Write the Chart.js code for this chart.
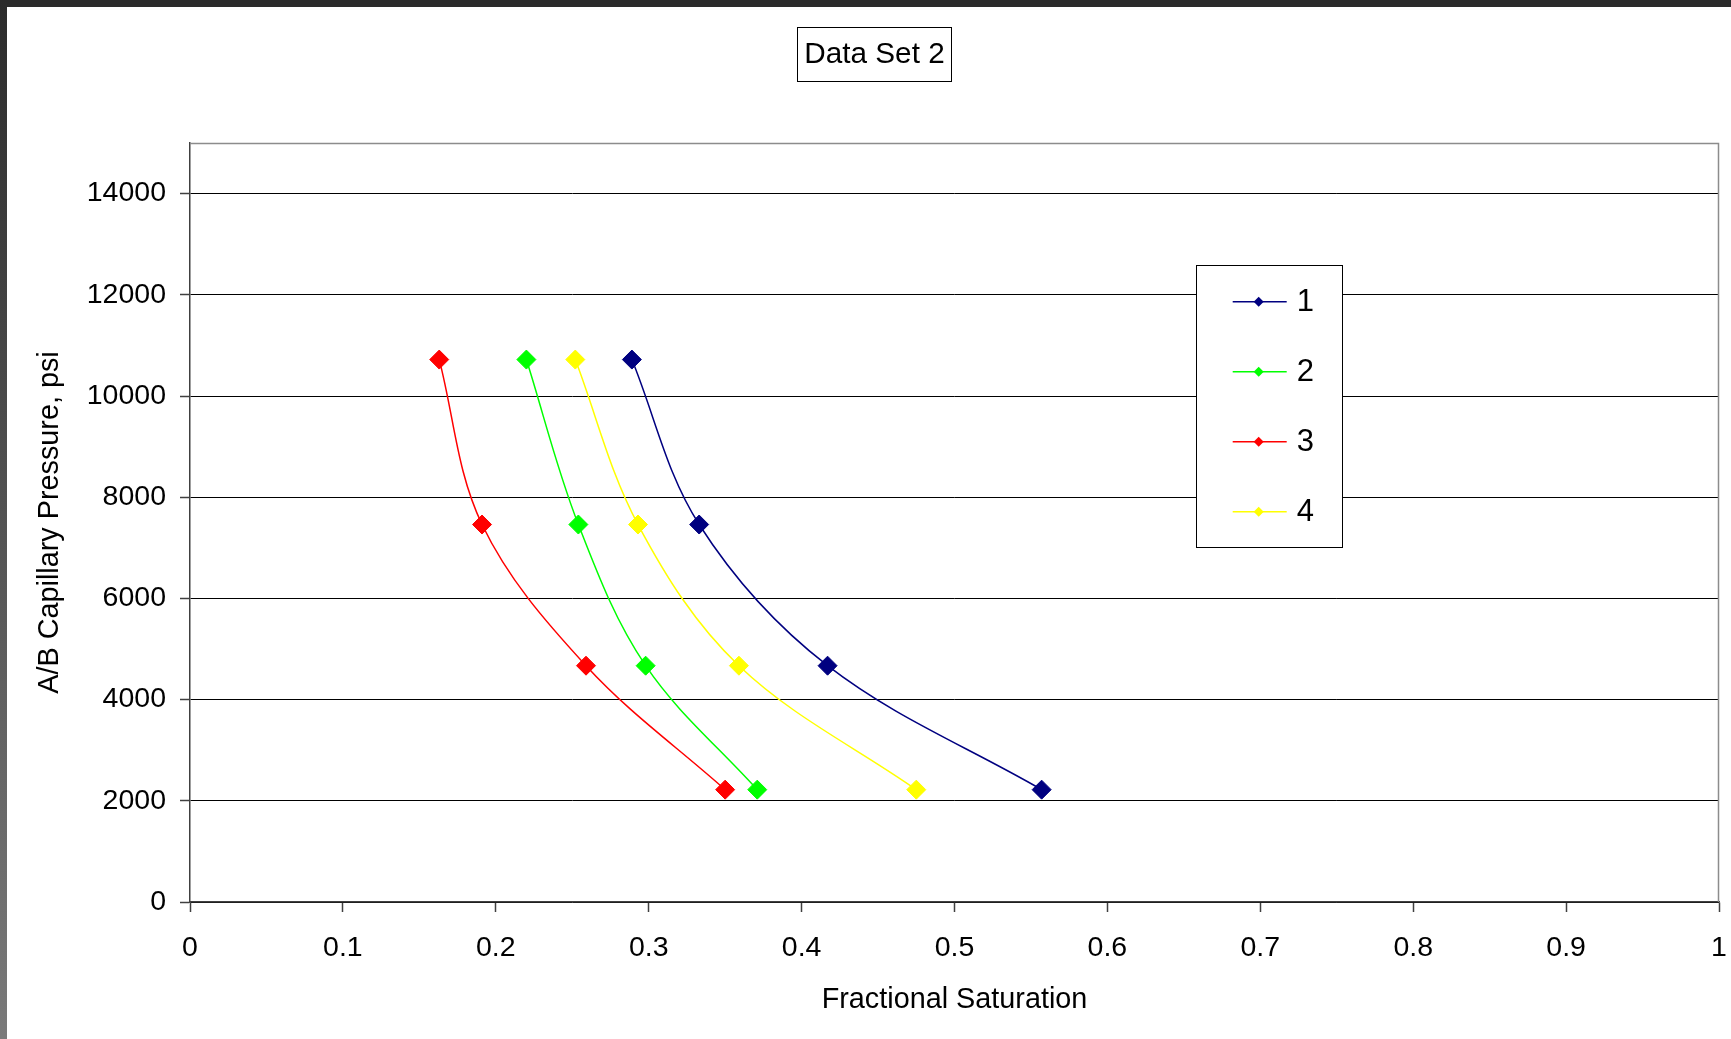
<!DOCTYPE html>
<html>
<head>
<meta charset="utf-8">
<title>Data Set 2</title>
<script src="https://cdn.jsdelivr.net/npm/chart.js@4.4.1/dist/chart.umd.min.js"></script>
<style>
  html, body { margin: 0; padding: 0; background: #ffffff; overflow: hidden; }
  #wrap { position: relative; width: 1731px; height: 1039px; }
</style>
</head>
<body>
<div id="wrap"><canvas id="capChart" width="1731" height="1039"></canvas></div>
<script>
// values
const pressure = [10720, 7460, 4670, 2220];          // psi, shared by all four curves
const satSet1 = [0.289, 0.333, 0.417, 0.557];
const satSet2 = [0.220, 0.254, 0.298, 0.371];
const satSet3 = [0.163, 0.191, 0.259, 0.350];
const satSet4 = [0.252, 0.293, 0.359, 0.475];
const seriesNames = ['1', '2', '3', '4'];
const seriesColors = ['#000080', '#00ff00', '#ff0000', '#ffff00'];
const xTickValues = [0, 0.1, 0.2, 0.3, 0.4, 0.5, 0.6, 0.7, 0.8, 0.9, 1];
const yTickValues = [0, 2000, 4000, 6000, 8000, 10000, 12000, 14000];

const FONT = '"Liberation Sans", Arial, Helvetica, sans-serif';

function toPoints(xs) {
  return xs.map((x, i) => ({ x: x, y: pressure[i] }));
}

const datasets = [satSet1, satSet2, satSet3, satSet4].map((xs, i) => ({
  label: seriesNames[i],
  data: toPoints(xs),
  showLine: true,
  borderColor: seriesColors[i],
  backgroundColor: seriesColors[i],
  borderWidth: 1.5,
  tension: 0.35,
  pointStyle: 'rectRot',
  pointRadius: 9.5,
  pointBorderWidth: 1,
  pointHoverRadius: 9.5
}));

// frame, title box and the boxed legend like the spreadsheet original
const decorations = {
  id: 'decorations',
  beforeDraw(chart) {
    const ctx = chart.ctx;
    ctx.save();
    ctx.fillStyle = '#ffffff';
    ctx.fillRect(0, 0, chart.width, chart.height);
    // dark window edge top and left
    ctx.fillStyle = '#2b2b2b';
    ctx.fillRect(0, 0, chart.width, 7);
    const g = ctx.createLinearGradient(0, 0, 0, chart.height);
    g.addColorStop(0, '#2b2b2b');
    g.addColorStop(1, '#7a7a7a');
    ctx.fillStyle = g;
    ctx.fillRect(0, 0, 7, chart.height);
    ctx.restore();
  },
  beforeDatasetsDraw(chart) {
    const { ctx, chartArea: a } = chart;
    ctx.save();
    ctx.strokeStyle = '#8c8c8c';
    ctx.lineWidth = 1.5;
    ctx.beginPath();
    ctx.moveTo(a.left, a.top + 0.5);
    ctx.lineTo(a.right - 0.5, a.top + 0.5);
    ctx.lineTo(a.right - 0.5, a.bottom);
    ctx.stroke();
    ctx.restore();
  },
  afterDraw(chart) {
    const ctx = chart.ctx;
    ctx.save();

    // title
    ctx.font = '29.7px ' + FONT;
    ctx.textBaseline = 'middle';
    ctx.textAlign = 'center';
    const title = 'Data Set 2';
    const tw = ctx.measureText(title).width;
    const tcx = 874.5, tcy = 53.5;
    ctx.fillStyle = '#ffffff';
    ctx.fillRect(tcx - tw / 2 - 7, tcy - 27, tw + 14, 54);
    ctx.strokeStyle = '#000000';
    ctx.lineWidth = 1;
    ctx.strokeRect(Math.round(tcx - tw / 2 - 7) + 0.5, Math.round(tcy - 27) + 0.5, Math.round(tw + 14), 54);
    ctx.fillStyle = '#000000';
    ctx.fillText(title, tcx, tcy + 1);

    // legend
    const lx = 1196.5, ly = 265.5, lw = 146, lh = 282;
    ctx.fillStyle = '#ffffff';
    ctx.fillRect(lx, ly, lw, lh);
    ctx.strokeStyle = '#000000';
    ctx.strokeRect(lx, ly, lw, lh);
    ctx.font = '31px ' + FONT;
    ctx.textAlign = 'left';
    chart.data.datasets.forEach((ds, i) => {
      const y = 301.7 + i * 70;
      ctx.strokeStyle = ds.borderColor;
      ctx.lineWidth = 1.5;
      ctx.beginPath();
      ctx.moveTo(1232.7, y);
      ctx.lineTo(1286.7, y);
      ctx.stroke();
      ctx.fillStyle = ds.backgroundColor;
      ctx.beginPath();
      ctx.moveTo(1258.7 - 5, y);
      ctx.lineTo(1258.7, y - 5);
      ctx.lineTo(1258.7 + 5, y);
      ctx.lineTo(1258.7, y + 5);
      ctx.closePath();
      ctx.fill();
      ctx.fillStyle = '#000000';
      ctx.fillText(ds.label, 1296.7, y + 1);
    });
    ctx.restore();
  }
};

document.addEventListener('DOMContentLoaded', () => {
  const canvas = document.getElementById('capChart');

  new Chart(canvas, {
    type: 'scatter',
    data: { datasets: datasets },
    options: {
      responsive: false,
      animation: false,
      devicePixelRatio: 1,
      layout: { padding: { left: 7, right: 12, top: 143, bottom: 0 } },
      plugins: {
        legend: { display: false },
        title: { display: false },
        tooltip: { enabled: false }
      },
      scales: {
        x: {
          type: 'linear',
          min: 0,
          max: 1,
          afterBuildTicks: (scale) => { scale.ticks = xTickValues.map(v => ({ value: v })); },
          afterFit: (scale) => {
            scale.height = 137;
            scale.paddingLeft = 0;
            scale.paddingRight = 0;
          },
          ticks: {
            padding: 19,
            color: '#000000',
            font: { family: FONT, size: 28.5 },
            maxRotation: 0,
            autoSkip: false,
            callback: (v) => String(Math.round(v * 10) / 10)
          },
          grid: {
            drawOnChartArea: false,
            drawTicks: true,
            tickLength: 10,
            tickColor: '#404040',
            tickWidth: 1.5
          },
          border: { color: '#404040', width: 1.5 },
          title: {
            display: true,
            text: 'Fractional Saturation',
            color: '#000000',
            font: { family: FONT, size: 28.8 },
            padding: { top: 0, bottom: 22 }
          }
        },
        y: {
          type: 'linear',
          min: 0,
          max: 15000,
          afterBuildTicks: (scale) => { scale.ticks = yTickValues.map(v => ({ value: v })); },
          afterFit: (scale) => {
            scale.width = 183;
            scale.paddingTop = 0;
            scale.paddingBottom = 0;
          },
          ticks: {
            padding: 14,
            color: '#000000',
            font: { family: FONT, size: 28.5 },
            autoSkip: false,
            callback: (v) => String(v)
          },
          grid: {
            color: '#000000',
            lineWidth: 1,
            tickLength: 10,
            tickColor: '#404040',
            tickWidth: 1.5
          },
          border: { color: '#404040', width: 1.5 },
          title: {
            display: true,
            text: 'A/B Capillary Pressure, psi',
            color: '#000000',
            font: { family: FONT, size: 28.8 },
            padding: { top: 26, bottom: 0 }
          }
        }
      }
    },
    plugins: [decorations]
  });
});
</script>
</body>
</html>
